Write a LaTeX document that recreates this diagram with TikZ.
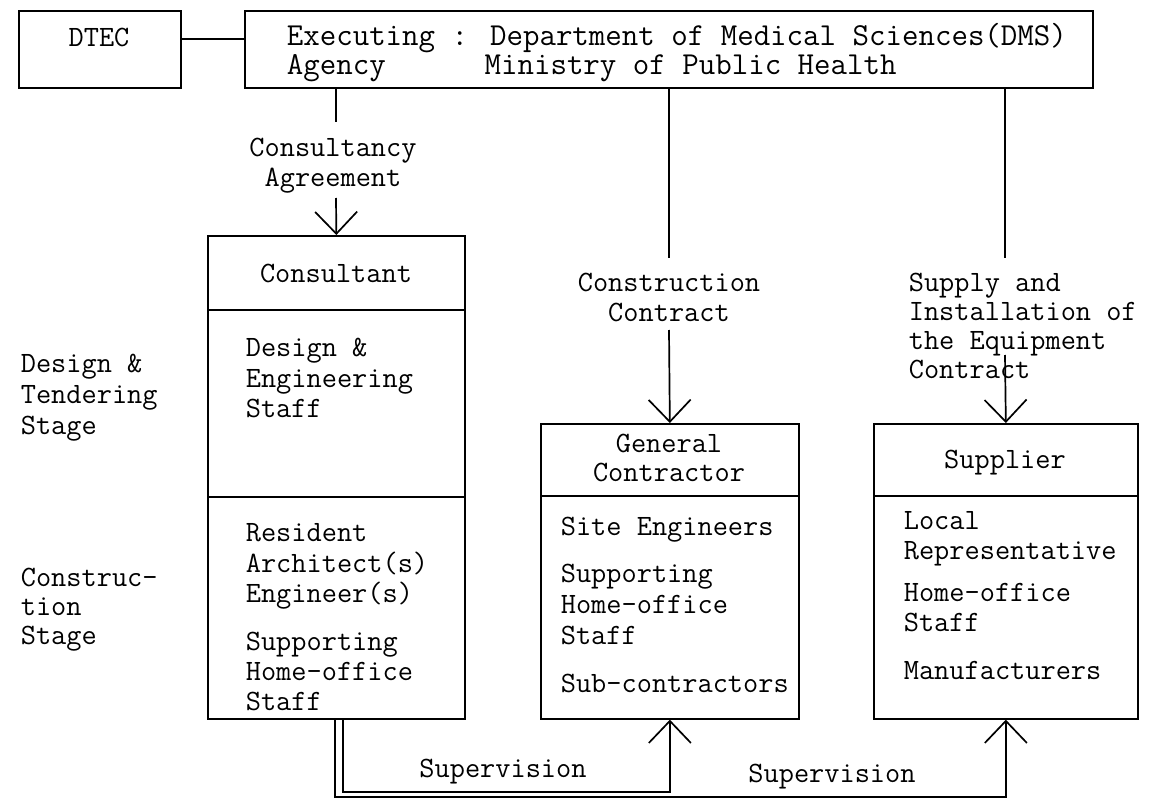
\documentclass[tikz,border=0pt]{standalone}
\usepackage{fontspec}
\usetikzlibrary{arrows.meta}
\begin{document}
\begin{tikzpicture}[x=1pt,y=-1pt,
  line width=1.7pt,
  box/.style={draw, line width=1.7pt, inner sep=0pt, anchor=north west},
  txt/.style={inner sep=0pt, anchor=base west, font=\ttfamily\fontsize{29.5}{30}\selectfont},
  ctxt/.style={txt, anchor=base},
  toptxt/.style={txt, font=\ttfamily\fontsize{32}{33}\selectfont},
  arr/.style={-{Straight Barb[length=22pt,width=42pt]}}
]
\useasboundingbox (0,0) rectangle (1160,800);

% top boxes
\node[box, minimum width=162pt, minimum height=77pt] (dtec) at (18,10) {};
\node[ctxt] (dtect) at (99,47) {DTEC};
\node[box, minimum width=848pt, minimum height=77pt] (exec) at (244,10) {};
\node[toptxt] (exec1) at (286,46) {Executing : Department of Medical Sciences(DMS)};
\node[toptxt] (exec2) at (286,75) {Agency~~~~~~Ministry of Public Health};
\draw (dtec.east |- 0,39) -- (exec.west |- 0,39);

% lower boxes
\node[box, minimum width=257pt, minimum height=483pt] (cons) at (207,235) {};
\node[box, minimum width=258pt, minimum height=295pt] (gc) at (540,423) {};
\node[box, minimum width=264pt, minimum height=295pt] (sup) at (873,423) {};
\draw (cons.west |- 0,310) -- (cons.east |- 0,310);
\draw (cons.west |- 0,497) -- (cons.east |- 0,497);
\draw (gc.west |- 0,496) -- (gc.east |- 0,496);
\draw (sup.west |- 0,496) -- (sup.east |- 0,496);

% consultant texts
\node[ctxt] (consh) at (336,282) {Consultant};
\node[txt] (c1) at (245,356) {Design \&};
\node[txt] (c2) at (245,387) {Engineering};
\node[txt] (c3) at (245,417) {Staff};
\node[txt] (c4) at (245,541) {Resident};
\node[txt] (c5) at (245,572) {Architect(s)};
\node[txt] (c6) at (245,602) {Engineer(s)};
\node[txt] (c7) at (245,650) {Supporting};
\node[txt] (c8) at (245,680) {Home-office};
\node[txt] (c9) at (245,710) {Staff};

% general contractor texts
\node[ctxt] (gch1) at (669,452) {General};
\node[ctxt] (gch2) at (669,481) {Contractor};
\node[txt] (g1) at (560,535) {Site Engineers};
\node[txt] (g2) at (560,582) {Supporting};
\node[txt] (g3) at (560,613) {Home-office};
\node[txt] (g4) at (560,644) {Staff};
\node[txt] (g5) at (560,692) {Sub-contractors};

% supplier texts
\node[ctxt] (suph) at (1005,468) {Supplier};
\node[txt] (s1) at (903,529) {Local};
\node[txt] (s2) at (903,559) {Representative};
\node[txt] (s3) at (903,601) {Home-office};
\node[txt] (s4) at (903,631) {Staff};
\node[txt] (s5) at (903,679) {Manufacturers};

% stage labels
\node[txt] (d1) at (20,372) {Design \&};
\node[txt] (d2) at (20,403) {Tendering};
\node[txt] (d3) at (20,434) {Stage};
\node[txt] (k1) at (20,586) {Construc-};
\node[txt] (k2) at (20,615) {tion};
\node[txt] (k3) at (20,644) {Stage};

% contract labels
\node[ctxt] (ca1) at (333,156) {Consultancy};
\node[ctxt] (ca2) at (333,186) {Agreement};
\node[ctxt] (cc1) at (669,291) {Construction};
\node[ctxt] (cc2) at (669,321) {Contract};
\node[txt] (sc1) at (908,291) {Supply and};
\node[txt] (sc2) at (908,320) {Installation of};
\node[txt] (sc3) at (908,349) {the Equipment};
\node[txt] (sc4) at (908,378) {Contract};

\coordinate (caA) at (336,122);
\coordinate (caB) at (336,198);
\coordinate (ccA) at (669,258);
\coordinate (ccB) at (669,330);
\coordinate (scA) at (1005,258);
\coordinate (scB) at (1005,355);

\draw (exec.south -| caA) -- (caA);
\draw[arr] (caB) -- (cons.north);
\draw (exec.south -| ccA) -- (ccA);
\draw[arr] (ccB) -- (gc.north);
\draw (exec.south -| scA) -- (scA);
\draw[arr] (scB) -- (sup.north);

% supervision
\draw[arr] (cons.south -| 343,0) |- (gc.south |- 0,792) -- (gc.south);
\draw[arr] (cons.south -| 335,0) |- (sup.south |- 0,797) -- (sup.south);
\node[ctxt] (sv1) at (503,777) {Supervision};
\node[ctxt] (sv2) at (832,782) {Supervision};
\end{tikzpicture}
\end{document}
